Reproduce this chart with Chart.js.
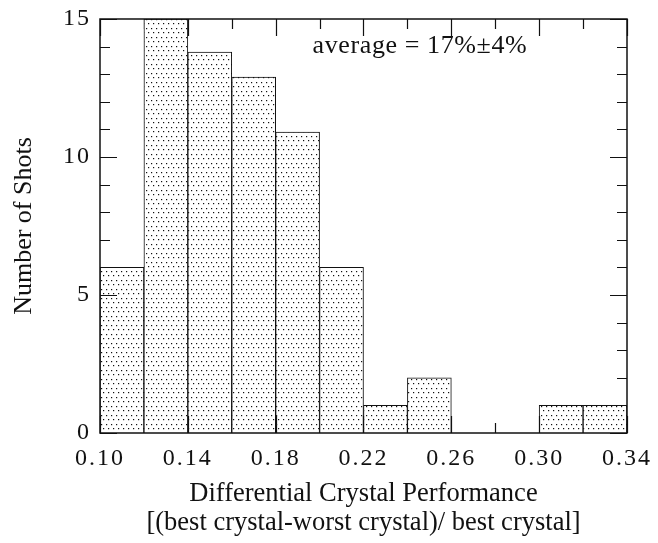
<!DOCTYPE html>
<html>
<head>
<meta charset="utf-8">
<script src="https://cdn.jsdelivr.net/npm/chart.js@4.4.1/dist/chart.umd.min.js"></script>
<style>
  html, body { margin: 0; padding: 0; background: #fff; }
  #wrap { width: 658px; height: 543px; }
</style>
</head>
<body>
<div id="wrap"><canvas id="chart"></canvas></div>
<script>
// histogram bins (centres), counts
const binCenters = [0.11, 0.13, 0.15, 0.17, 0.19, 0.21, 0.23, 0.25, 0.27, 0.29, 0.31, 0.33];
const shotCounts = [6, 15, 13.8, 12.9, 10.9, 6, 1, 2, 0, 0, 1, 1];
const xTickValues = [0.10, 0.14, 0.18, 0.22, 0.26, 0.30, 0.34];
const xMinorStep = 0.02;
const yTickValues = [0, 5, 10, 15];
const yMinorStep = 1;
const xTitleLines = ["Differential Crystal Performance", "[(best crystal-worst crystal)/ best crystal]"];
const yTitle = "Number of Shots";
const avgLabel = "average = 17%\u00b14%";

const serif = "'Liberation Serif', 'DejaVu Serif', serif";

// dotted fill like the printed stipple
function makeStipple() {
  const c = document.createElement("canvas");
  c.width = 10; c.height = 9;
  const g = c.getContext("2d");
  g.fillStyle = "#fff";
  g.fillRect(0, 0, 10, 9);
  g.fillStyle = "#111";
  [[1, 1], [6, 1], [3, 5], [8, 5]].forEach(([px, py]) => g.fillRect(px, py, 1.2, 1.2));
  return g.createPattern(c, "repeat");
}

function tickMarks(chart, major) {
  const { ctx, chartArea: a, scales: { x, y } } = chart;
  ctx.save();
  ctx.strokeStyle = "#111";
  ctx.lineWidth = 1.2;
  ctx.beginPath();
  // x ticks, top and bottom, pointing inwards
  for (let v = 0.10; v <= 0.3401; v += xMinorStep) {
    const isMajor = xTickValues.some(t => Math.abs(t - v) < 1e-6);
    if (isMajor !== major) continue;
    const len = isMajor ? 17 : 10;
    const px = Math.round(x.getPixelForValue(v)) + 0.5;
    ctx.moveTo(px, a.top); ctx.lineTo(px, a.top + len);
    ctx.moveTo(px, a.bottom); ctx.lineTo(px, a.bottom - len);
  }
  // y ticks, left and right
  for (let v = 0; v <= 15; v += yMinorStep) {
    const isMajor = yTickValues.includes(v);
    if (isMajor !== major) continue;
    const len = isMajor ? 17 : 10;
    const py = Math.round(y.getPixelForValue(v)) + 0.5;
    ctx.moveTo(a.left, py); ctx.lineTo(a.left + len, py);
    ctx.moveTo(a.right, py); ctx.lineTo(a.right - len, py);
  }
  ctx.stroke();
  ctx.restore();
}

const framePlugin = {
  id: "frame",
  beforeDatasetsDraw(chart) { tickMarks(chart, false); },
  afterDatasetsDraw(chart) {
    tickMarks(chart, true);
    const { ctx, chartArea: a } = chart;
    ctx.save();
    ctx.strokeStyle = "#111";
    ctx.lineWidth = 1.5;
    ctx.strokeRect(a.left, a.top, a.right - a.left, a.bottom - a.top);
    ctx.restore();
    // the tick labels are drawn in a later layer; the print has them widely spaced
    ctx.letterSpacing = "2px";
  },
  afterDraw(chart) {
    const { ctx, scales: { x, y } } = chart;
    ctx.letterSpacing = "0.6px";
    ctx.save();
    ctx.fillStyle = "#111";
    ctx.font = "26px " + serif;
    ctx.textAlign = "center";
    ctx.textBaseline = "middle";
    ctx.fillText(avgLabel, x.getPixelForValue(0.2457), y.getPixelForValue(14.0));
    ctx.restore();
    ctx.letterSpacing = "0px";
  }
};

new Chart(document.getElementById("chart"), {
  type: "bar",
  data: {
    datasets: [{
      data: binCenters.map((c, i) => ({ x: c, y: shotCounts[i] })),
      backgroundColor: makeStipple(),
      borderColor: "#111",
      borderWidth: 1,
      barPercentage: 1,
      categoryPercentage: 1
    }]
  },
  options: {
    responsive: true,
    maintainAspectRatio: false,
    animation: false,
    layout: { padding: { left: 0, right: 31, top: 19, bottom: 0 } },
    plugins: { legend: { display: false }, tooltip: { enabled: false } },
    scales: {
      x: {
        type: "linear",
        min: 0.10,
        max: 0.34,
        offset: false,
        grid: { display: false, drawTicks: false },
        border: { display: false },
        afterBuildTicks: s => { s.ticks = xTickValues.map(v => ({ value: v })); },
        afterFit: s => { s.height = 110; s.paddingLeft = 0; s.paddingRight = 0; },
        ticks: {
          z: 1,
          color: "#111",
          padding: 11,
          font: { family: serif, size: 24 },
          callback: v => Number(v).toFixed(2)
        },
        title: {
          display: true,
          text: xTitleLines,
          color: "#111",
          font: { family: serif, size: 26.5, lineHeight: 1.1 },
          padding: { top: 0, bottom: 5 }
        }
      },
      y: {
        min: 0,
        max: 15,
        grid: { display: false, drawTicks: false },
        border: { display: false },
        afterBuildTicks: s => { s.ticks = yTickValues.map(v => ({ value: v })); },
        afterFit: s => { s.width = 100; s.paddingTop = 0; s.paddingBottom = 0; },
        ticks: {
          z: 1,
          color: "#111",
          padding: 9,
          font: { family: serif, size: 24 }
        },
        title: {
          display: true,
          text: yTitle,
          color: "#111",
          font: { family: serif, size: 26 },
          padding: { top: 9, bottom: 0 }
        }
      }
    }
  },
  plugins: [framePlugin]
});
</script>
</body>
</html>
